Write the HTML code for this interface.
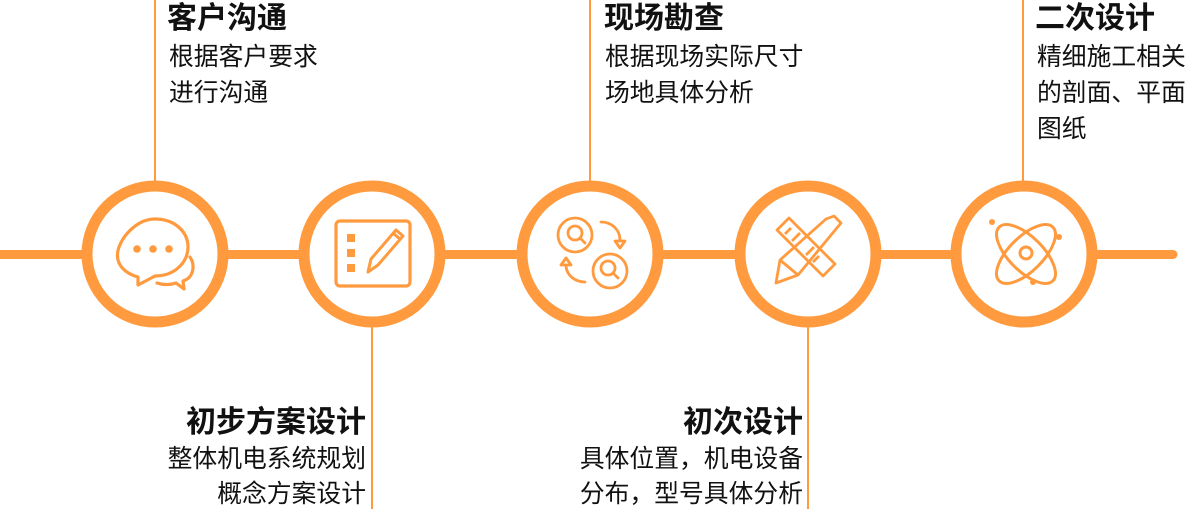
<!DOCTYPE html>
<html><head><meta charset="utf-8"><style>
body{margin:0;width:1200px;height:509px;background:#fff;overflow:hidden;position:relative;font-family:"Liberation Sans","Noto Sans CJK SC",sans-serif;color:#111}
.t{position:absolute;white-space:nowrap}
.h{font-size:30px;font-weight:bold;line-height:36px}
.s{font-size:24.8px;line-height:36px}
.r{text-align:right}
</style></head><body>
<svg width="1200" height="509" style="position:absolute;left:0;top:0">
<g stroke="#FF9A3E" fill="none">
<line x1="0" y1="254.5" x2="1173" y2="254.5" stroke-width="9" stroke-linecap="round"/>
<line x1="155" y1="0" x2="155" y2="182" stroke-width="2"/>
<line x1="590" y1="0" x2="590" y2="182" stroke-width="2"/>
<line x1="1023" y1="0" x2="1023" y2="182" stroke-width="2"/>
<line x1="372" y1="326" x2="372" y2="509" stroke-width="2"/>
<line x1="808" y1="326" x2="808" y2="509" stroke-width="2"/>
<g fill="#fff" stroke-width="11">
<circle cx="155" cy="254" r="68"/>
<circle cx="372" cy="254" r="68"/>
<circle cx="590" cy="254" r="68"/>
<circle cx="808" cy="254" r="68"/>
<circle cx="1024" cy="254" r="68"/>
</g>
<g stroke-width="3.2" stroke-linejoin="round" stroke-linecap="round">
<path d="M138 277 C118 271 115 258 119 247 C124 234 138 219 155 219 C175 219 188 232 188 247 C188 262 175 276 155 276 L138 285 Z"/>
<path d="M190 257 C196 266 193 278 183 281 L184 289 L176 283 C170 285 163 285 157 283"/>
</g>
<g fill="#FF9A3E" stroke="none"><circle cx="137" cy="249" r="3.8"/><circle cx="153" cy="249" r="3.8"/><circle cx="169" cy="249" r="3.8"/></g>
<rect x="336" y="221" width="74" height="65" rx="4" stroke-width="3.2"/>
<g fill="#FF9A3E" stroke="none"><rect x="347" y="234" width="8" height="8"/><rect x="347" y="249" width="8" height="8"/><rect x="347" y="264" width="8" height="8"/></g>
<path d="M371 259 L396 230 L403 236 L378 265 L368 272 Z M393 233 L400 239" stroke-width="3" stroke-linejoin="round"/>
<g stroke-width="2.8" stroke-linecap="round">
<circle cx="575" cy="235" r="17"/><circle cx="575" cy="233" r="7"/><line x1="580" y1="238" x2="585" y2="243"/>
<circle cx="610" cy="271" r="17"/><circle cx="608" cy="268" r="7"/><line x1="613" y1="273" x2="618" y2="278"/>
<path d="M601 222 C612 222 620 230 620 240"/><path d="M615 241 L625 241 L620 248 Z" stroke-linejoin="round"/>
<path d="M585 282 C575 282 566 275 566 265"/><path d="M561 265 L571 265 L566 258 Z" stroke-linejoin="round"/>
</g>
<g stroke-width="2.8" stroke-linejoin="round">
<path d="M777 230 L789 218 L835 264 L823 276 Z"/>
<path d="M785 234 L791 228 M792 241 L800 233 M806 255 L814 247 M813 262 L819 256"/>
<path d="M826 219 L834 216 L841 223 L798 275 L776 283 L780 260 Z"/>
<path d="M780 260 L798 275"/>
</g>
<g stroke-width="3" stroke-linecap="round">
<ellipse cx="1026" cy="254" rx="38" ry="17" transform="rotate(45 1026 254)"/>
<ellipse cx="1026" cy="254" rx="38" ry="17" transform="rotate(-45 1026 254)"/>
<circle cx="1026" cy="253" r="6"/>
</g>
<g fill="#FF9A3E" stroke="none"><circle cx="992" cy="222" r="3"/><circle cx="1059" cy="237" r="3"/><circle cx="1033" cy="282" r="3"/></g>
</g>
</svg>
<div class="t h" style="left:167px;top:1px">客户沟通</div>
<div class="t s" style="left:169px;top:40px">根据客户要求</div>
<div class="t s" style="left:169px;top:76px">进行沟通</div>
<div class="t h" style="left:604px;top:1px">现场勘查</div>
<div class="t s" style="left:605px;top:40px">根据现场实际尺寸</div>
<div class="t s" style="left:605px;top:76px">场地具体分析</div>
<div class="t h" style="left:1035px;top:1px">二次设计</div>
<div class="t s" style="left:1037px;top:40px">精细施工相关</div>
<div class="t s" style="left:1037px;top:76px">的剖面、平面</div>
<div class="t s" style="left:1037px;top:112px">图纸</div>
<div class="t h r" style="right:834px;top:405px">初步方案设计</div>
<div class="t s r" style="right:834px;top:442px">整体机电系统规划</div>
<div class="t s r" style="right:834px;top:477px">概念方案设计</div>
<div class="t h r" style="right:397px;top:405px">初次设计</div>
<div class="t s r" style="right:397px;top:442px">具体位置，机电设备</div>
<div class="t s r" style="right:397px;top:477px">分布，型号具体分析</div>
</body></html>
